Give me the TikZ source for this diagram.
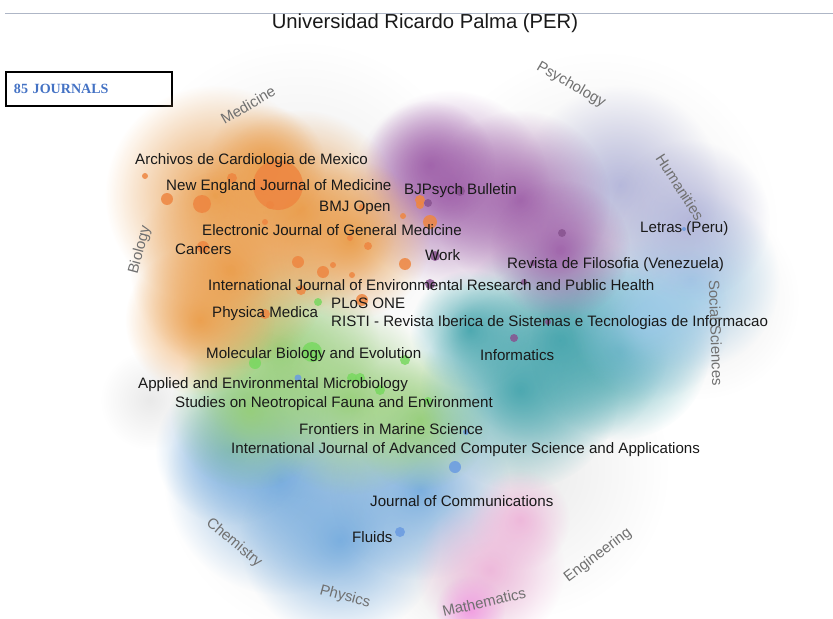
\documentclass[tikz,border=0pt]{standalone}
\usepackage{fontspec}
\setmainfont{Liberation Sans}
\newfontfamily\boxfont{Liberation Serif}
\usetikzlibrary{fadings}

\definecolor{medorange}{HTML}{EB9E4C}
\definecolor{psypurple}{HTML}{A062AA}
\definecolor{humlav}{HTML}{B4B6DA}
\definecolor{socblue}{HTML}{9CCAE8}
\definecolor{infteal}{HTML}{48A6AE}
\definecolor{biogreen}{HTML}{96CE78}
\definecolor{phyblue}{HTML}{76ACDE}
\definecolor{mathpink}{HTML}{EEB6DA}
\definecolor{haze}{HTML}{E8E8E8}
\definecolor{labelgray}{HTML}{707070}
\definecolor{boxblue}{HTML}{4472C4}
\definecolor{rulegray}{HTML}{AEB6C6}

\tikzfading[name=blob, inner color=transparent!0, outer color=transparent!100]

\begin{document}
\begin{tikzpicture}[x=0.03cm, y=-0.03cm,
    cloud/.style={fill=#1, path fading=blob, fill opacity=0.95},
    dot/.style={fill=#1, fill opacity=0.85},
    journal/.style={anchor=west, inner sep=0pt, text=black!90,
      font=\fontsize{12.9}{14}\selectfont},
    field/.style={inner sep=0pt, text=labelgray,
      font=\fontsize{12.8}{14}\selectfont}]
  \useasboundingbox (0,0) rectangle (833,619);

  % header
  \draw[rulegray, line width=0.8pt] (5,13) -- (833,13);
  \node (title) [inner sep=0pt, text=black!90,
    font=\fontsize{17.3}{19}\selectfont] at (425,23)
    {Universidad Ricardo Palma (PER)};
  \node (count) [draw=black, line width=0.9pt, minimum width=166*0.03cm,
    minimum height=34*0.03cm, text width=150*0.03cm, align=left,
    font=\boxfont\bfseries\fontsize{12}{14}\selectfont, text=boxblue]
    at (89,89) {85 JOURNALS};

  % background haze
  \foreach \x/\y/\r in {300/220/180, 600/230/180, 330/470/170, 520/470/150,
      700/300/100, 460/580/80, 150/400/50}
    \fill[cloud=haze] (\x,\y) circle (\r);

  % fields
  \foreach \x/\y/\r in {280/480/115, 340/540/100, 420/490/90, 230/450/75}
    \fill[cloud=phyblue] (\x,\y) circle (\r);
  \foreach \x/\y/\r in {280/350/100, 350/400/95, 250/410/80, 420/420/70}
    \fill[cloud=biogreen] (\x,\y) circle (\r);
  \foreach \x/\y/\r in {560/340/110, 520/390/100, 620/350/90, 470/330/60}
    \fill[cloud=infteal] (\x,\y) circle (\r);
  \foreach \x/\y/\r in {690/280/90, 650/320/80}
    \fill[cloud=socblue] (\x,\y) circle (\r);
  \foreach \x/\y/\r in {620/185/100, 690/220/80}
    \fill[cloud=humlav] (\x,\y) circle (\r);
  \foreach \x/\y/\r in {450/190/100, 520/200/90, 560/250/70, 430/165/65}
    \fill[cloud=psypurple] (\x,\y) circle (\r);
  \foreach \x/\y/\r in {215/195/110, 230/270/100, 300/210/100, 350/240/80,
      200/320/75, 265/165/60}
    \fill[cloud=medorange] (\x,\y) circle (\r);
  \foreach \x/\y/\r in {490/570/75, 520/520/50}
    \fill[cloud=mathpink] (\x,\y) circle (\r);
  \fill[cloud=mathpink!85!magenta] (470,610) circle (35);

  % journals
  \foreach \x/\y/\r in {145/176/3, 167/199/6, 202/204/9, 278/185/25,
      232/178/5, 270/205/4, 265/222/3, 203/247/6, 298/262/6, 323/272/6,
      333/265/3, 350/238/3, 368/246/4, 405/264/6, 352/275/3, 420/205/4,
      430/222/7, 403/216/3, 420/200/5, 362/207/3, 362/300/6, 265/314/5,
      301/290/5}
    \fill[dot=medorange!85!red] (\x,\y) circle (\r);
  \foreach \x/\y/\r in {428/203/4, 460/191/5, 562/233/4, 435/256/5,
      430/284/5, 524/282/3, 548/322/3, 514/338/4, 533/263/3}
    \fill[dot=psypurple!85!black] (\x,\y) circle (\r);
  \foreach \x/\y/\r in {318/302/4, 312/352/10, 255/363/6, 405/360/5,
      352/378/5, 360/378/5, 380/390/5, 428/401/4}
    \fill[dot=biogreen!80!green] (\x,\y) circle (\r);
  \foreach \x/\y/\r in {298/378/3.5, 455/467/6, 400/532/5, 466/432/3,
      684/229/2}
    \fill[dot=phyblue!90!blue] (\x,\y) circle (\r);

  \node (archivos) [journal] at (135,161) {Archivos de Cardiologia de Mexico};
  \node (nejm) [journal] at (166,187) {New England Journal of Medicine};
  \node (bjpsych) [journal] at (404,191) {BJPsych Bulletin};
  \node (bmj) [journal] at (319,208) {BMJ Open};
  \node (ejgm) [journal] at (202,230) {Electronic Journal of General Medicine};
  \node (cancers) [journal] at (175,249) {Cancers};
  \node (letras) [journal] at (640,229) {Letras (Peru)};
  \node (work) [journal] at (425,255) {Work};
  \node (filosofia) [journal] at (507,265) {Revista de Filosofia (Venezuela)};
  \node (ijerph) [journal] at (208,285)
    {International Journal of Environmental Research and Public Health};
  \node (plos) [journal] at (331,303) {PLoS ONE};
  \node (physica) [journal] at (212,314) {Physica Medica};
  \node (risti) [journal] at (331,323)
    {RISTI - Revista Iberica de Sistemas e Tecnologias de Informacao};
  \node (molbio) [journal] at (206,355) {Molecular Biology and Evolution};
  \node (informatics) [journal] at (480,355) {Informatics};
  \node (aem) [journal] at (138,385) {Applied and Environmental Microbiology};
  \node (neotrop) [journal] at (175,404)
    {Studies on Neotropical Fauna and Environment};
  \node (marine) [journal] at (299,429) {Frontiers in Marine Science};
  \node (ijacsa) [journal] at (231,450)
    {International Journal of Advanced Computer Science and Applications};
  \node (comms) [journal] at (370,501) {Journal of Communications};
  \node (fluids) [journal] at (352,537) {Fluids};

  % subject areas
  \node (medicine) [field, rotate=30] at (248,105) {Medicine};
  \node (psychology) [field, rotate=-30] at (571,85) {Psychology};
  \node (humanities) [field, rotate=-57] at (680,187) {Humanities};
  \node (social) [field, rotate=-88] at (716,333) {Social Sciences};
  \node (biology) [field, rotate=75] at (140,250) {Biology};
  \node (chemistry) [field, rotate=-40] at (234,543) {Chemistry};
  \node (physics) [field, rotate=-15] at (345,597) {Physics};
  \node (mathematics) [field, rotate=13] at (484,602) {Mathematics};
  \node (engineering) [field, rotate=37] at (598,555) {Engineering};
\end{tikzpicture}
\end{document}
